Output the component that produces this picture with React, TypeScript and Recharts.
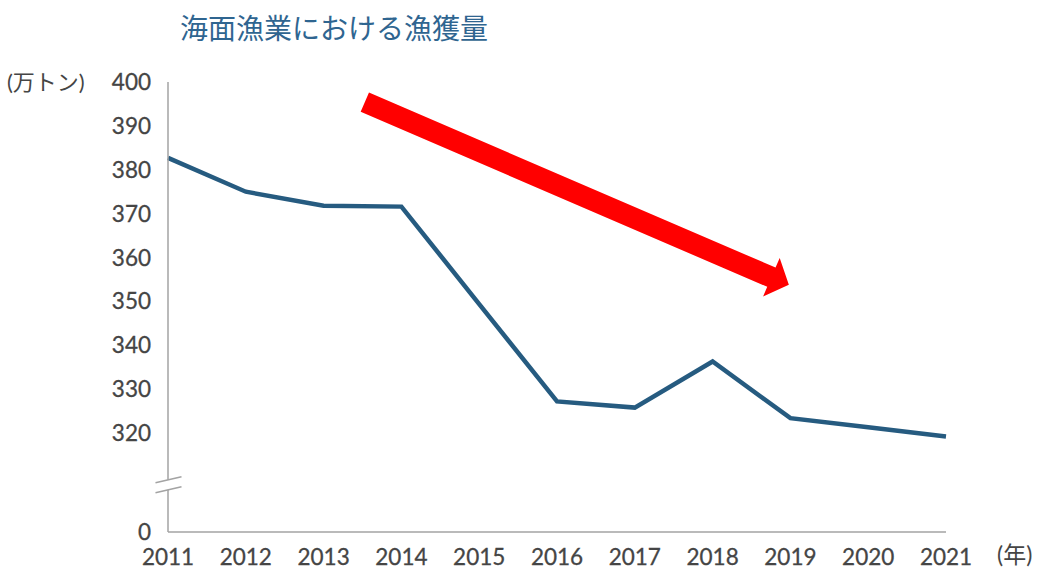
import { LineChart, Line, XAxis, YAxis, ReferenceLine } from "recharts";

// 海面漁業における漁獲量 (万トン)
const years = [2011, 2012, 2013, 2014, 2015, 2016, 2017, 2018, 2019, 2020, 2021];
const catchVolume = [382.7, 375.0, 371.8, 371.6, 349.4, 327.2, 325.8, 336.3, 323.4, 321.3, 319.2];
const yTicks = [320, 330, 340, 350, 360, 370, 380, 390, 400];
// the axis is broken: this value sits where "0" is printed
const axisFloor = 297.45;
const breakAt = 308.2;
// trend arrow, tail -> tip, in data units
const arrowFrom = { year: 2013.53, value: 395.4 };
const arrowTo = { year: 2018.98, value: 353.8 };

const data = years.map((year, i) => ({ year, value: catchVolume[i] }));

const font = "Lato, 'Noto Sans CJK JP', sans-serif";
const textColor = "#454545";
const axisColor = "#a3a3a3";

function YTick(props: any) {
  const { x, y, payload } = props;
  if (payload.value === breakAt) {
    const ax = x + 17;
    return (
      <g>
        <rect x={ax - 3} y={y - 5} width={6} height={10} fill="#fff" />
        <line x1={ax - 12.5} y1={y - 2} x2={ax + 13.5} y2={y - 8} stroke={axisColor} strokeWidth={1.5} />
        <line x1={ax - 12.5} y1={y + 8} x2={ax + 13.5} y2={y + 2} stroke={axisColor} strokeWidth={1.5} />
      </g>
    );
  }
  const label = payload.value === axisFloor ? "0" : String(payload.value);
  return (
    <text x={x} y={y} dy="0.355em" textAnchor="end" fill={textColor} stroke={textColor} strokeWidth={0.3} fontSize={22.5} fontFamily={font}>
      {label}
    </text>
  );
}

function Arrow(props: any) {
  const { x1, y1, x2, y2 } = props;
  if (x1 == null) return null;
  const len = Math.hypot(x2 - x1, y2 - y1);
  const ux = (x2 - x1) / len, uy = (y2 - y1) / len;
  const nx = -uy, ny = ux;
  const shaft = 10.5, head = 21, headLen = 19;
  const bx = x2 - ux * headLen, by = y2 - uy * headLen;
  const pts = [
    [x1 + nx * shaft, y1 + ny * shaft],
    [bx + nx * shaft, by + ny * shaft],
    [bx + nx * head, by + ny * head],
    [x2, y2],
    [bx - nx * head, by - ny * head],
    [bx - nx * shaft, by - ny * shaft],
    [x1 - nx * shaft, y1 - ny * shaft],
  ];
  return <polygon points={pts.map((p) => p.join(",")).join(" ")} fill="#ff0000" />;
}

export default function App() {
  return (
    <div style={{ position: "absolute", left: 0, top: 0, width: 1040, height: 570, background: "#fff", fontFamily: font }}>
      <div style={{ position: "absolute", left: 180, top: 14, fontSize: 28, lineHeight: 1, color: "#2f6590", whiteSpace: "nowrap" }}>
        海面漁業における漁獲量
      </div>
      <div style={{ position: "absolute", left: 7, top: 71, fontSize: 22, lineHeight: 1, color: textColor, whiteSpace: "nowrap" }}>
        (万トン)
      </div>
      <div style={{ position: "absolute", left: 997, top: 543, fontSize: 23, lineHeight: 1, color: textColor, whiteSpace: "nowrap" }}>
        (年)
      </div>
      <LineChart width={1040} height={570} data={data} margin={{ top: 82, right: 94, bottom: 8, left: 108 }}>
        <XAxis
          dataKey="year"
          type="number"
          domain={[years[0], years[years.length - 1]]}
          ticks={years}
          interval={0}
          tickLine={false}
          tickMargin={11}
          height={30}
          axisLine={{ stroke: axisColor, strokeWidth: 1.5 }}
          tick={{ fill: textColor, stroke: textColor, strokeWidth: 0.3, fontSize: 22.5, fontFamily: font }}
        />
        <YAxis
          type="number"
          domain={[axisFloor, 400]}
          ticks={[axisFloor, breakAt, ...yTicks]}
          interval={0}
          width={60}
          tickLine={false}
          tickMargin={11}
          axisLine={{ stroke: axisColor, strokeWidth: 1.5 }}
          tick={<YTick />}
        />
        <ReferenceLine
          segment={[
            { x: arrowFrom.year, y: arrowFrom.value },
            { x: arrowTo.year, y: arrowTo.value },
          ]}
          shape={(p: any) => <Arrow {...p} />}
        />
        <Line
          dataKey="value"
          stroke="#265b80"
          strokeWidth={4.5}
          dot={false}
          activeDot={false}
          isAnimationActive={false}
        />
      </LineChart>
    </div>
  );
}
